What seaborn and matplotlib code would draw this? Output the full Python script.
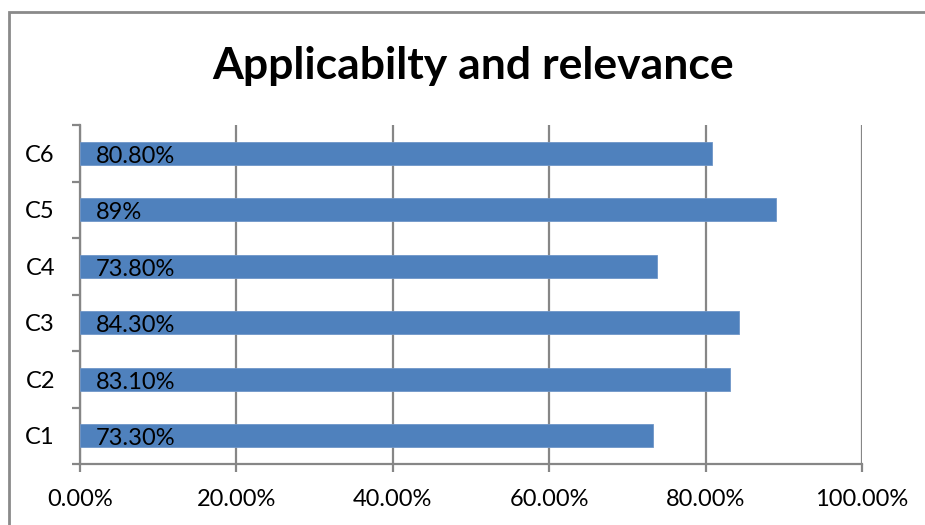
import matplotlib
matplotlib.use("Agg")
import matplotlib.pyplot as plt
import seaborn as sns
import pandas as pd
from matplotlib.patches import Rectangle
from matplotlib.ticker import FixedLocator, FuncFormatter

# Survey criteria and their applicability scores (%)
categories = ["C1", "C2", "C3", "C4", "C5", "C6"]
scores = [73.3, 83.1, 84.3, 73.8, 89.0, 80.8]
score_labels = ["73.30%", "83.10%", "84.30%", "73.80%", "89%", "80.80%"]
x_ticks = [0, 20, 40, 60, 80, 100]

df = pd.DataFrame({"criterion": categories, "score": scores, "label": score_labels})
order = categories[::-1]  # C6 on top

sns.set_theme(style="white")
plt.rcParams["font.family"] = ["Lato", "DejaVu Sans"]

fig = plt.figure(figsize=(9.25, 5.25), dpi=100)
ax = fig.add_axes([80 / 925, 1 - 464 / 525, (862 - 80) / 925, (464 - 125) / 525])

bar_color = "#4F81BD"
grid_color = "#868686"

sns.barplot(data=df, x="score", y="criterion", order=order, orient="h",
            color=bar_color, width=0.4, saturation=1, ax=ax, zorder=3,
            edgecolor="#6f96c8", linewidth=0.6)

ax.set_xlim(0, 100)
ax.set_ylim(5.5, -0.5)
ax.xaxis.set_major_locator(FixedLocator(x_ticks))
ax.xaxis.set_major_formatter(FuncFormatter(lambda v, _: f"{v:.2f}%"))
ax.set_xlabel("")
ax.set_ylabel("")

# vertical gridlines
ax.grid(axis="x", color=grid_color, linewidth=1.6, zorder=0)
ax.grid(axis="y", visible=False)

for side in ["top", "right"]:
    ax.spines[side].set_visible(False)
for side in ["left", "bottom"]:
    ax.spines[side].set_color(grid_color)
    ax.spines[side].set_linewidth(1.6)

# category-boundary ticks on the y axis
ax.yaxis.set_minor_locator(FixedLocator([i - 0.5 for i in range(len(categories) + 1)]))
ax.tick_params(axis="y", which="major", length=0, pad=18, labelsize=17, labelcolor="black")
ax.tick_params(axis="y", which="minor", left=True, length=6, width=1.6, color=grid_color)
ax.tick_params(axis="x", which="major", bottom=True, length=6, width=1.6, color=grid_color,
               pad=12, labelsize=17, labelcolor="black")

# value labels inside the bars
for _, row in df.iterrows():
    ypos = order.index(row["criterion"])
    ax.text(2, ypos + 0.05, row["label"], ha="left", va="center",
            fontsize=17, color="black", zorder=4)

fig.text(473 / 925, 1 - 66 / 525, "Applicabilty and relevance", ha="center", va="center",
         fontsize=32, fontweight="bold", color="black")

# chart-area border
fig.patches.append(Rectangle((9 / 925, -0.1), 1.2, 1.1 - 12 / 525, transform=fig.transFigure,
                             fill=False, edgecolor="#8a8a8a", linewidth=2, zorder=0))

fig.savefig("out.png", dpi=100)
